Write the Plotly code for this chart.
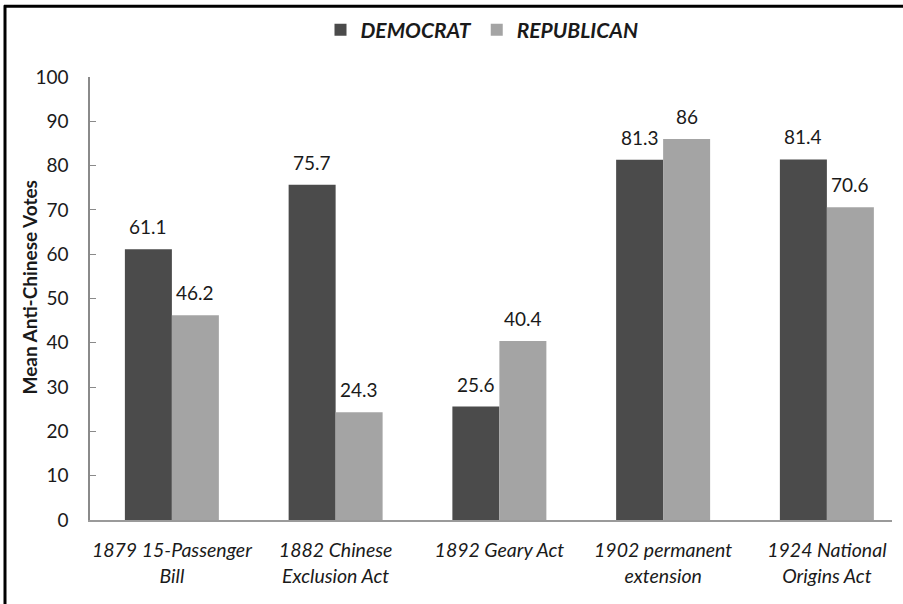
import plotly.graph_objects as go

# Congressional votes on anti-Chinese legislation, by party
acts = [
    "1879 15-Passenger<br>Bill",
    "1882 Chinese<br>Exclusion Act",
    "1892 Geary Act",
    "1902 permanent<br>extension",
    "1924 National<br>Origins Act",
]
democrat = [61.1, 75.7, 25.6, 81.3, 81.4]
republican = [46.2, 24.3, 40.4, 86, 70.6]
y_ticks = [0, 10, 20, 30, 40, 50, 60, 70, 80, 90, 100]

FONT = "Lato"
DARK = "#4b4b4b"
LIGHT = "#a4a4a4"
TEXT = "#1a1a1a"

L, R, T, B = 90, 11, 76, 84
W, H = 903, 604
pw, ph = W - L - R, H - T - B
CAT_PX = 163.75          # width of one category slot in pixels
BARGAP = 0.426
BAR_PX = CAT_PX * (1 - BARGAP) / 2

def px_x(p):
    return (p - L) / pw

def px_y(p):
    return (H - B - p) / ph

xs = list(range(len(acts)))

fig = go.Figure()
fig.add_trace(go.Bar(
    x=xs, y=democrat, name="DEMOCRAT",
    marker=dict(color=DARK, line=dict(width=0)),
))
fig.add_trace(go.Bar(
    x=xs, y=republican, name="REPUBLICAN",
    marker=dict(color=LIGHT, line=dict(width=0)),
))

# Value labels above each bar
for series, shift in ((democrat, -BAR_PX / 2), (republican, BAR_PX / 2)):
    for xi, v in zip(xs, series):
        fig.add_annotation(
            x=xi, y=v, xref="x", yref="y", text=f"{v:g}",
            showarrow=False, xanchor="center", yanchor="bottom",
            xshift=shift, yshift=9,
            font=dict(family=FONT, size=19, color=TEXT),
        )

fig.update_layout(
    width=W, height=H,
    margin=dict(l=L, r=R, t=T, b=B, pad=0),
    paper_bgcolor="white", plot_bgcolor="white",
    barmode="group", bargap=BARGAP, bargroupgap=0,
    font=dict(family=FONT, color=TEXT),
    showlegend=True,
    legend=dict(
        orientation="h", x=px_x(482), xanchor="center",
        y=px_y(30), yanchor="middle",
        font=dict(family=FONT, size=21, weight="bold", style="italic", color=TEXT),
        itemwidth=30, tracegroupgap=0, bgcolor="rgba(0,0,0,0)",
    ),
    xaxis=dict(
        tickmode="array", tickvals=xs, ticktext=acts,
        range=[-0.5, -0.5 + pw / CAT_PX],
        showline=True, linecolor="#9a9a9a", linewidth=1.5,
        ticks="", showgrid=False, zeroline=False,
        tickfont=dict(family=FONT, size=19.5, style="italic", color=TEXT),
        ticklabelstandoff=12,
    ),
    yaxis=dict(
        range=[0, 100], tickvals=y_ticks,
        showline=True, linecolor="#8a8a8a", linewidth=1.5,
        ticks="inside", ticklen=6, tickcolor="#8a8a8a", tickwidth=1,
        showgrid=False, zeroline=False,
        tickfont=dict(family=FONT, size=19, color=TEXT),
        ticklabelstandoff=16,
    ),
)

# Vertical y-axis title
fig.add_annotation(
    text="Mean Anti-Chinese Votes", textangle=-90,
    xref="paper", yref="paper", x=px_x(30), y=px_y(287),
    xanchor="center", yanchor="middle", showarrow=False,
    font=dict(family=FONT, size=19, weight="bold", color=TEXT),
)

# Black frame along the left and top edges
fig.add_shape(type="line", xref="paper", yref="paper",
              x0=px_x(5), x1=px_x(5), y0=px_y(4), y1=px_y(H + 5),
              line=dict(color="black", width=3), layer="above")
fig.add_shape(type="line", xref="paper", yref="paper",
              x0=px_x(4), x1=px_x(W + 5), y0=px_y(5), y1=px_y(5),
              line=dict(color="black", width=3), layer="above")

fig.write_html("out.html")
